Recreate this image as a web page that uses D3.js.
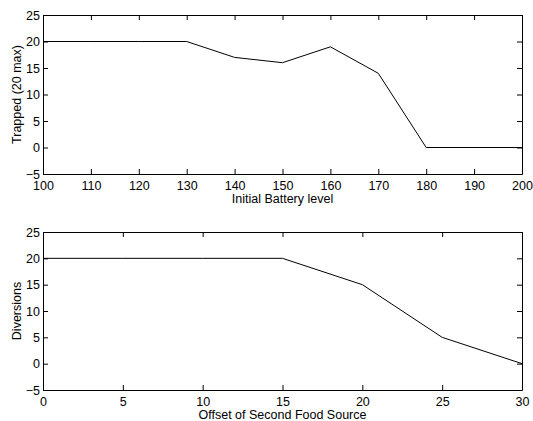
<!DOCTYPE html>
<html>
<head>
<meta charset="utf-8">
<script src="https://cdn.jsdelivr.net/npm/d3@7"></script>
<style>
  body { margin: 0; background: #fff; }
  svg text { font-family: "Liberation Sans", Arial, sans-serif; font-size: 12.5px; fill: #000; }
</style>
</head>
<body>
<div id="chart"></div>
<script>
// top panel data
var batteryLevels = [100, 110, 120, 130, 140, 150, 160, 170, 180, 190, 200];
var trapped = [20, 20, 20, 20, 17, 16, 19, 14, 0, 0, 0];
var batteryTicks = [100, 110, 120, 130, 140, 150, 160, 170, 180, 190, 200];

// bottom panel data
var foodOffsets = [0, 5, 10, 15, 20, 25, 30];
var diversions = [20, 20, 20, 20, 15, 5, 0];
var offsetTicks = [0, 5, 10, 15, 20, 25, 30];

var yTicks = [-5, 0, 5, 10, 15, 20, 25];

var svg = d3.select("#chart").append("svg")
    .attr("width", 533)
    .attr("height", 421);

function drawPanel(top, height, xs, ys, xDomain, xTicks, xLabel, yLabel){
    var left = 43, right = 522;
    var x = d3.scaleLinear().domain(xDomain).range([left, right]);
    var y = d3.scaleLinear().domain([-5, 25]).range([top + height, top]);

    var g = svg.append("g");

    // axes with inward ticks, MATLAB style box
    var fmt = function(d){ return d < 0 ? "\u2212" + Math.abs(d) : d; };
    g.append("g").attr("transform", "translate(0," + (top + height) + ")")
        .call(d3.axisBottom(x).tickValues(xTicks).tickSizeInner(-5).tickSizeOuter(0).tickPadding(7));
    g.append("g").attr("transform", "translate(0," + top + ")")
        .call(d3.axisTop(x).tickValues(xTicks).tickSizeInner(-5).tickSizeOuter(0).tickFormat(""));
    g.append("g").attr("transform", "translate(" + left + ",0)")
        .call(d3.axisLeft(y).tickValues(yTicks).tickSizeInner(-5).tickSizeOuter(0).tickPadding(3).tickFormat(fmt));
    g.append("g").attr("transform", "translate(" + right + ",0)")
        .call(d3.axisRight(y).tickValues(yTicks).tickSizeInner(-5).tickSizeOuter(0).tickFormat(""));

    g.selectAll(".domain").attr("stroke", "#000");
    g.selectAll(".tick line").attr("stroke", "#000");
    g.selectAll("text").attr("font-size", null).attr("font-family", null);

    // the line
    var line = d3.line()
        .x(function(d, i){ return x(xs[i]); })
        .y(function(d){ return y(d); });
    g.append("path")
        .datum(ys)
        .attr("d", line)
        .attr("fill", "none")
        .attr("stroke", "#000")
        .attr("stroke-width", 1);

    // labels
    g.append("text")
        .attr("x", (left + right) / 2)
        .attr("y", top + height + 29)
        .attr("text-anchor", "middle")
        .text(xLabel);
    g.append("text")
        .attr("transform", "translate(21," + (top + height / 2) + ") rotate(-90)")
        .attr("text-anchor", "middle")
        .text(yLabel);
}

drawPanel(15, 159, batteryLevels, trapped, [100, 200], batteryTicks, "Initial Battery level", "Trapped (20 max)");
drawPanel(232, 158, foodOffsets, diversions, [0, 30], offsetTicks, "Offset of Second Food Source", "Diversions");
</script>
</body>
</html>
